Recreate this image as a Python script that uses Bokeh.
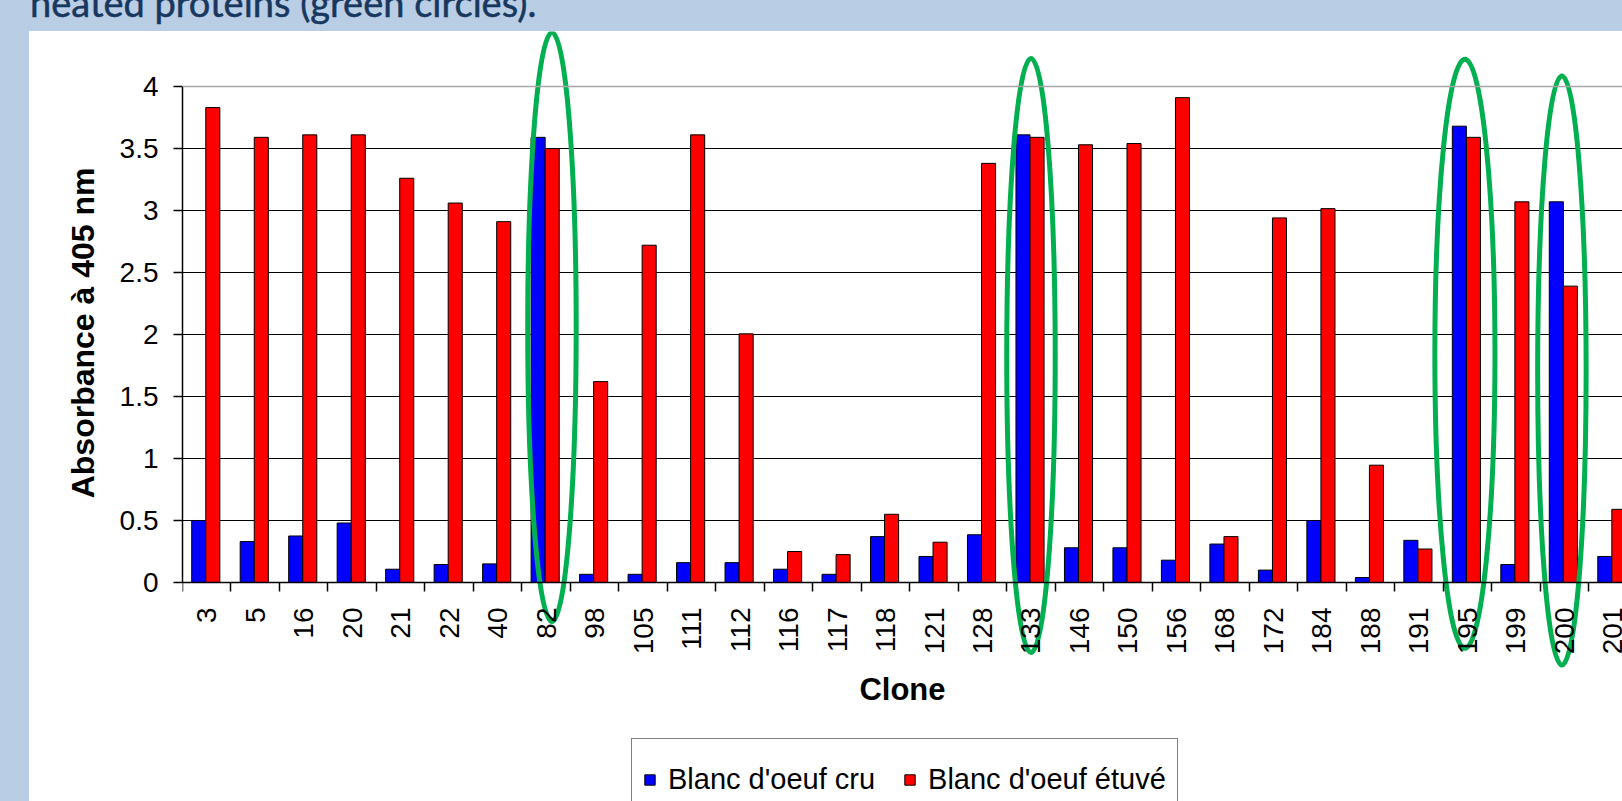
import math
from bokeh.plotting import figure
from bokeh.models import Range1d, FixedTicker, Legend, LegendItem, Span, Div, Spacer, Title
from bokeh.layouts import column, row
from bokeh.embed import file_html
from bokeh.resources import INLINE

# ---------------- data ----------------
clones = ["3", "5", "16", "20", "21", "22", "40", "82", "98", "105", "111", "112",
          "116", "117", "118", "121", "128", "133", "146", "150", "156", "168",
          "172", "184", "188", "191", "195", "199", "200", "201"]
raw_white = [0.50, 0.33, 0.375, 0.48, 0.107, 0.145, 0.15, 3.59, 0.066, 0.066, 0.16, 0.16,
             0.107, 0.066, 0.37, 0.21, 0.385, 3.61, 0.28, 0.28, 0.18, 0.31,
             0.10, 0.50, 0.04, 0.34, 3.68, 0.145, 3.07, 0.21]
heated_white = [3.83, 3.59, 3.61, 3.61, 3.26, 3.06, 2.91, 3.50, 1.62, 2.72, 3.61, 2.005,
                0.25, 0.225, 0.55, 0.325, 3.38, 3.59, 3.53, 3.54, 3.91, 0.37,
                2.94, 3.015, 0.946, 0.27, 3.59, 3.07, 2.39, 0.59]
series_names = ["Blanc d'oeuf cru", "Blanc d'oeuf \u00e9tuv\u00e9"]
ytick_values = [0, 0.5, 1, 1.5, 2, 2.5, 3, 3.5, 4]
ytick_labels = ["0", "0.5", "1", "1.5", "2", "2.5", "3", "3.5", "4"]
y_title = "Absorbance \u00e0 405 nm"
x_title = "Clone"
highlighted = ["82", "133", "195", "200"]
slide_title = "heated proteins (green circles)."

# ---------------- annotation geometry (green ellipses, data units) ----------------
ell_dx = [0.12, 0.0, -0.05, -0.05]      # shift of ellipse centre from category centre
ell_cy = [2.06, 1.83, 1.845, 1.71]
ell_rx = [0.50, 0.50, 0.62, 0.50]
ell_ry = [2.375, 2.395, 2.38, 2.38]

n = len(clones)
x_raw = [i + 0.335 for i in range(n)]
x_heat = [i + 0.625 for i in range(n)]

# the frame covers the whole white panel so the ellipses and the legend are not clipped;
# the x axis sits at y = 0 and the y axis is bounded to 0..4
p = figure(width=1593, height=772, output_backend="svg", toolbar_location=None,
           x_range=Range1d(0, 29.70), y_range=Range1d(-1.7823, 4.4435),
           min_border_left=153, min_border_right=0, min_border_top=0, min_border_bottom=0,
           background_fill_color="white", border_fill_color="white",
           styles={"background-color": "white"})
p.outline_line_color = None

r1 = p.vbar(x=x_raw, top=raw_white, width=0.29, bottom=0,
            fill_color="#0000ff", line_color="black", line_width=1)
r2 = p.vbar(x=x_heat, top=heated_white, width=0.29, bottom=0,
            fill_color="#ff0000", line_color="black", line_width=1)

# grey top border of the plot area
p.add_layout(Span(location=ytick_values[-1], dimension="width",
                  line_color="#a6a6a6", line_width=1.5))

# grid
p.xgrid.visible = False
p.ygrid.ticker = FixedTicker(ticks=ytick_values[1:-1])
p.ygrid.grid_line_color = "black"
p.ygrid.grid_line_width = 1.2

# x axis
xa = p.xaxis[0]
xa.fixed_location = 0
xa.ticker = FixedTicker(ticks=[i + 0.5 for i in range(n)], minor_ticks=list(range(n + 1)))
xa.major_label_overrides = {i + 0.5: c for i, c in enumerate(clones)}
xa.major_label_orientation = math.pi / 2
xa.major_tick_out = 0
xa.major_tick_in = 0
xa.minor_tick_out = 9
xa.minor_tick_in = 0
xa.minor_tick_line_color = "black"
xa.minor_tick_line_width = 1.5
xa.axis_line_color = "black"
xa.axis_line_width = 1.5
xa.major_label_standoff = 16
xa.major_label_text_font = "Liberation Sans"
xa.major_label_text_font_size = "28px"
xa.major_label_text_color = "black"
xa.axis_label = x_title
xa.axis_label_text_font = "Liberation Sans"
xa.axis_label_text_font_style = "bold"
xa.axis_label_text_font_size = "31px"
xa.axis_label_text_color = "black"
xa.axis_label_standoff = 15

# y axis
ya = p.yaxis[0]
ya.bounds = (ytick_values[0], ytick_values[-1])
ya.ticker = FixedTicker(ticks=ytick_values)
ya.major_label_overrides = {v: s for v, s in zip(ytick_values, ytick_labels)}
ya.major_tick_out = 9
ya.major_tick_in = 0
ya.minor_tick_out = 0
ya.minor_tick_in = 0
ya.major_tick_line_color = "black"
ya.major_tick_line_width = 1.5
ya.axis_line_color = "black"
ya.axis_line_width = 1.5
ya.major_label_standoff = 15
ya.major_label_text_font = "Liberation Sans"
ya.major_label_text_font_size = "28px"
ya.major_label_text_color = "black"

# y-axis title, positioned along the 0..4 span of the axis (not the whole frame)
p.add_layout(Title(text=y_title, align="right", offset=136, standoff=32,
                   text_font="Liberation Sans", text_font_size="32px",
                   text_font_style="bold", text_color="black"), "left")

# legend (boxed, at the bottom of the panel)
legend = Legend(items=[LegendItem(label=series_names[0], renderers=[r1]),
                       LegendItem(label=series_names[1], renderers=[r2])],
                orientation="horizontal", location=(449, -18),
                border_line_color="black", border_line_width=1.5,
                background_fill_color="white", background_fill_alpha=1,
                label_text_font="Liberation Sans", label_text_font_size="29px",
                label_text_color="black",
                glyph_width=13, glyph_height=13, label_standoff=12,
                label_height=59, padding=11, spacing=28, margin=0)
p.add_layout(legend)

# green highlight ellipses
ex = [clones.index(c) + 0.5 + d for c, d in zip(highlighted, ell_dx)]
p.ellipse(x=ex, y=ell_cy, width=[2 * r for r in ell_rx], height=[2 * r for r in ell_ry],
          fill_color=None, line_color="#00b050", line_width=5, line_alpha=1)

title_div = Div(
    text=('<div style="font-family:Lato;font-size:38px;line-height:38px;color:#17375e;'
          '-webkit-text-stroke:0.5px #17375e;'
          'white-space:nowrap;position:relative;top:-22px;left:25px;">'
          + slide_title + '</div>'),
    width=1614, height=21)

layout = column(title_div, row(Spacer(width=29, height=772), p))

html = file_html(layout, INLINE)
html = html.replace("</head>", "<style>html,body{background:#b9cde5;}</style></head>", 1)
open("out.html", "w").write(html)
